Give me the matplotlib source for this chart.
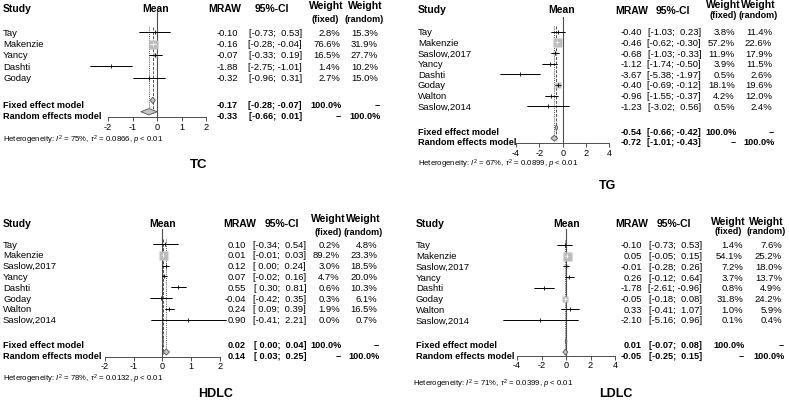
import matplotlib
matplotlib.use('Agg')
import matplotlib.pyplot as plt
import matplotlib.transforms as mtransforms
from matplotlib.patches import Polygon
import numpy as np

plt.rcParams['font.family'] = ['Liberation Sans', 'DejaVu Sans']
plt.rcParams['axes.unicode_minus'] = False
plt.rcParams['mathtext.fontset'] = 'custom'
plt.rcParams['mathtext.rm'] = 'Liberation Sans'
plt.rcParams['mathtext.it'] = 'Liberation Sans:italic'
plt.rcParams['mathtext.bf'] = 'Liberation Sans:bold'

# ---------------- data ----------------
tc_studies = ["Tay", "Makenzie", "Yancy", "Dashti", "Goday"]
tc_mraw = [-0.10, -0.16, -0.07, -1.88, -0.32]
tc_lo = [-0.73, -0.28, -0.33, -2.75, -0.96]
tc_hi = [0.53, -0.04, 0.19, -1.01, 0.31]
tc_wfixed = [2.8, 76.6, 16.5, 1.4, 2.7]
tc_wrandom = [15.3, 31.9, 27.7, 10.2, 15.0]
tc_fixed = [-0.17, -0.28, -0.07]
tc_random = [-0.33, -0.66, 0.01]
tc_het = [75, "0.0866", "0.01"]
tc_ticks = [-2, -1, 0, 1, 2]

tg_studies = ["Tay", "Makenzie", "Saslow,2017", "Yancy", "Dashti", "Goday", "Walton", "Saslow,2014"]
tg_mraw = [-0.40, -0.46, -0.68, -1.12, -3.67, -0.40, -0.96, -1.23]
tg_lo = [-1.03, -0.62, -1.03, -1.74, -5.38, -0.69, -1.55, -3.02]
tg_hi = [0.23, -0.30, -0.33, -0.50, -1.97, -0.12, -0.37, 0.56]
tg_wfixed = [3.8, 57.2, 11.9, 3.9, 0.5, 18.1, 4.2, 0.5]
tg_wrandom = [11.4, 22.6, 17.9, 11.5, 2.6, 19.6, 12.0, 2.4]
tg_fixed = [-0.54, -0.66, -0.42]
tg_random = [-0.72, -1.01, -0.43]
tg_het = [67, "0.0899", "0.01"]
tg_ticks = [-4, -2, 0, 2, 4]

hdlc_studies = ["Tay", "Makenzie", "Saslow,2017", "Yancy", "Dashti", "Goday", "Walton", "Saslow,2014"]
hdlc_mraw = [0.10, 0.01, 0.12, 0.07, 0.55, -0.04, 0.24, 0.90]
hdlc_lo = [-0.34, -0.01, 0.00, -0.02, 0.30, -0.42, 0.09, -0.41]
hdlc_hi = [0.54, 0.03, 0.24, 0.16, 0.81, 0.35, 0.39, 2.21]
hdlc_wfixed = [0.2, 89.2, 3.0, 4.7, 0.6, 0.3, 1.9, 0.0]
hdlc_wrandom = [4.8, 23.3, 18.5, 20.0, 10.3, 6.1, 16.5, 0.7]
hdlc_fixed = [0.02, 0.00, 0.04]
hdlc_random = [0.14, 0.03, 0.25]
hdlc_het = [78, "0.0132", "0.01"]
hdlc_ticks = [-2, -1, 0, 1, 2]

ldlc_studies = ["Tay", "Makenzie", "Saslow,2017", "Yancy", "Dashti", "Goday", "Walton", "Saslow,2014"]
ldlc_mraw = [-0.10, 0.05, -0.01, 0.26, -1.78, -0.05, 0.33, -2.10]
ldlc_lo = [-0.73, -0.05, -0.28, -0.12, -2.61, -0.18, -0.41, -5.16]
ldlc_hi = [0.53, 0.15, 0.26, 0.64, -0.96, 0.08, 1.07, 0.96]
ldlc_wfixed = [1.4, 54.1, 7.2, 3.7, 0.8, 31.8, 1.0, 0.1]
ldlc_wrandom = [7.6, 25.2, 18.0, 13.7, 4.9, 24.2, 5.9, 0.4]
ldlc_fixed = [0.01, -0.07, 0.08]
ldlc_random = [-0.05, -0.25, 0.15]
ldlc_het = [71, "0.0399", "0.01"]
ldlc_ticks = [-4, -2, 0, 2, 4]

titles = ["TC", "TG", "HDLC", "LDLC"]

# ---------------- layout (pixels) ----------------
W, H = 789, 402
fig = plt.figure(figsize=(W / 100, H / 100), dpi=100)

layouts = [
    dict(x0=157, unit=24.5, xr=3, row0=33.3, dy=11.35, top=13.3, axis=118.3,
         name_x=3, mraw_r=238, ci_r=302, wf_r=340, wr_r=378,
         study=(3, 9), mean=(156, 9), mrawh=(225, 9), cih=(272, 9),
         wfh=(326, 6), wfs=(325, 19), wrh=(365, 6), wrs=(364, 19),
         het=(3, 139), title=(199, 165), tsize=9.5),
    dict(x0=562.7, unit=11.67, xr=6, row0=32.7, dy=10.66, top=18.3, axis=144,
         name_x=418, mraw_r=642, ci_r=701, wf_r=735, wr_r=772,
         study=(418, 10), mean=(562, 10), mrawh=(632, 11), cih=(673, 11),
         wfh=(723, 5), wfs=(723, 16), wrh=(758, 5), wrs=(758, 16),
         het=(418, 163), title=(607.5, 186), tsize=9),
    dict(x0=162.3, unit=28.75, xr=3, row0=245, dy=10.8, top=230, axis=357.7,
         name_x=3, mraw_r=246, ci_r=306, wf_r=340, wr_r=377,
         study=(3, 224), mean=(163, 224), mrawh=(240, 224), cih=(282, 224),
         wfh=(328, 219), wfs=(328, 233), wrh=(363, 219), wrs=(363, 233),
         het=(3, 378), title=(215.5, 394), tsize=9),
    dict(x0=566, unit=12.25, xr=6, row0=246, dy=10.71, top=230, axis=356.7,
         name_x=416, mraw_r=642, ci_r=702, wf_r=743, wr_r=782,
         study=(416, 224), mean=(567, 224), mrawh=(632, 224), cih=(674, 224),
         wfh=(728, 222), wfs=(728, 232), wrh=(766, 222), wrs=(766, 232),
         het=(413, 383), title=(616, 394), tsize=9),
]

panels = [
    (tc_studies, tc_mraw, tc_lo, tc_hi, tc_wfixed, tc_wrandom, tc_fixed, tc_random, tc_het, tc_ticks),
    (tg_studies, tg_mraw, tg_lo, tg_hi, tg_wfixed, tg_wrandom, tg_fixed, tg_random, tg_het, tg_ticks),
    (hdlc_studies, hdlc_mraw, hdlc_lo, hdlc_hi, hdlc_wfixed, hdlc_wrandom, hdlc_fixed, hdlc_random, hdlc_het, hdlc_ticks),
    (ldlc_studies, ldlc_mraw, ldlc_lo, ldlc_hi, ldlc_wfixed, ldlc_wrandom, ldlc_fixed, ldlc_random, ldlc_het, ldlc_ticks),
]

FS = 6.8
FS_B = 6.6
FS_H = 7.5
LINE = '#4d4d4d'
SQ = '#bdbdbd'


def fx(px):
    return px / W


def fy(py):
    return 1 - py / H


def ci_str(lo, hi):
    return "[{:5.2f}; {:5.2f}]".format(lo, hi)


def draw_panel(data, L, title):
    studies, mraw, lo, hi, wf, wr, fixed, rand, het, ticks = data
    n = len(studies)
    left = L['x0'] - L['unit'] * L['xr']
    ax = fig.add_axes([fx(left), fy(L['axis']), 2 * L['unit'] * L['xr'] / W,
                       (L['axis'] - L['top']) / H])
    ax.set_facecolor('none')
    ax.set_xlim(-L['xr'], L['xr'])
    ax.set_ylim((L['axis'] - L['row0']) / L['dy'], (L['top'] - L['row0']) / L['dy'])
    for s in ['top', 'left', 'right']:
        ax.spines[s].set_visible(False)
    ax.spines['bottom'].set_bounds(ticks[0], ticks[-1])
    ax.spines['bottom'].set_linewidth(0.6)
    ax.spines['bottom'].set_color('#333333')
    ax.set_xticks(ticks)
    ax.set_xticklabels([str(t) for t in ticks])
    ax.tick_params(axis='x', length=3, width=0.6, labelsize=6.6, pad=0.3, color='#333333')
    ax.set_yticks([])

    # reference lines
    ax.axvline(0, color=LINE, lw=0.8, zorder=1)
    ax.vlines(fixed[0], -0.5, n + 2.2, colors=LINE, lw=0.7, linestyles=(0, (3, 1.5)), zorder=1)
    ax.vlines(rand[0], -0.5, n + 2.2, colors=LINE, lw=0.7, linestyles=(0, (1, 1.2)), zorder=1)

    wmax = max(wf)
    for i in range(n):
        side = 9 * np.sqrt(wf[i] / wmax)
        half = side / 2 / L['unit']
        ax.hlines(i, lo[i], hi[i], colors='black', lw=0.6, zorder=3, clip_on=False)
        if side > 0:
            ax.plot(mraw[i], i, marker='s', ms=side * 0.72, color=SQ, mec='none', zorder=4)
        inside = (mraw[i] - lo[i] <= half) and (hi[i] - mraw[i] <= half)
        c = 'white' if inside else 'black'
        ax.hlines(i, lo[i], hi[i], colors=c, lw=0.6, zorder=5, clip_on=False)
        ax.plot(mraw[i], i, marker='|', ms=2.6, mew=0.6, color=c, zorder=5)

    for est, row in [(fixed, n + 1), (rand, n + 2)]:
        h = 0.28
        poly = Polygon([[est[1], row], [est[0], row - h], [est[2], row], [est[0], row + h]],
                       closed=True, fc='#c4c4c4', ec='#555555', lw=0.6, zorder=4, clip_on=False)
        ax.add_patch(poly)

    trans = mtransforms.blended_transform_factory(fig.transFigure, ax.transData)
    for i in range(n):
        ax.text(fx(L['name_x']), i, studies[i], transform=trans, ha='left', va='center', fontsize=FS)
        ax.text(fx(L['mraw_r']), i, "{:.2f}".format(mraw[i]), transform=trans, ha='right', va='center', fontsize=FS)
        ax.text(fx(L['ci_r']), i, ci_str(lo[i], hi[i]), transform=trans, ha='right', va='center', fontsize=FS)
        ax.text(fx(L['wf_r']), i, "{:.1f}%".format(wf[i]), transform=trans, ha='right', va='center', fontsize=FS)
        ax.text(fx(L['wr_r']), i, "{:.1f}%".format(wr[i]), transform=trans, ha='right', va='center', fontsize=FS)

    off = 0.33
    summ = [("Fixed effect model", fixed, "100.0%", "--", n + 1 + off),
            ("Random effects model", rand, "--", "100.0%", n + 2 + off)]
    for lab, est, wfs, wrs, y in summ:
        kw = dict(transform=trans, va='center', fontsize=FS_B, fontweight='bold')
        ax.text(fx(L['name_x']), y, lab, ha='left', **kw)
        ax.text(fx(L['mraw_r']), y, "{:.2f}".format(est[0]), ha='right', **kw)
        ax.text(fx(L['ci_r']), y, ci_str(est[1], est[2]), ha='right', **kw)
        ax.text(fx(L['wf_r']) + 2 / W, y, wfs, ha='right', **kw)
        ax.text(fx(L['wr_r']) + 3 / W, y, wrs, ha='right', **kw)

    hb = dict(fontsize=FS_H, fontweight='bold', va='center')
    fig.text(fx(L['study'][0]), fy(L['study'][1]), "Study", ha='left', **hb)
    fig.text(fx(L['mean'][0]), fy(L['mean'][1]), "Mean", ha='center', **hb)
    fig.text(fx(L['mrawh'][0]), fy(L['mrawh'][1]), "MRAW", ha='center', **hb)
    fig.text(fx(L['cih'][0]), fy(L['cih'][1]), "95%-CI", ha='center', **hb)
    fig.text(fx(L['wfh'][0]), fy(L['wfh'][1]), "Weight", ha='center', **hb)
    fig.text(fx(L['wrh'][0]), fy(L['wrh'][1]), "Weight", ha='center', **hb)
    fig.text(fx(L['wfs'][0]), fy(L['wfs'][1]), "(fixed)", ha='center', va='center', fontsize=6.5, fontweight='bold')
    fig.text(fx(L['wrs'][0]), fy(L['wrs'][1]), "(random)", ha='center', va='center', fontsize=6.5, fontweight='bold')

    het_txt = "Heterogeneity: $I^2$ = {}%, $\\tau^2$ = {}, $p$ < {}".format(het[0], het[1], het[2])
    fig.text(fx(L['het'][0]), fy(L['het'][1]) - 0.003, het_txt, ha='left', va='center', fontsize=5.6)
    fig.text(fx(L['title'][0]), fy(L['title'][1]), title, ha='center', va='center',
             fontsize=L['tsize'], fontweight='bold')


for data, L, t in zip(panels, layouts, titles):
    draw_panel(data, L, t)

fig.savefig('out.png', dpi=100, facecolor='white')
